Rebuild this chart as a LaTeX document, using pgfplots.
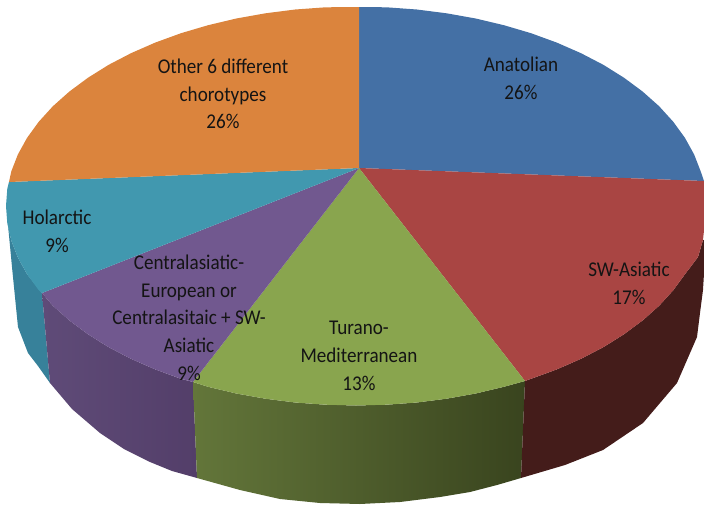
\documentclass[border=0pt]{standalone}
\usepackage{fontspec}
\setmainfont[FakeStretch=0.91]{Carlito}
\usepackage{pgfplots}
\pgfplotsset{compat=1.18}
\definecolor{cBlue}{HTML}{4470A5}
\definecolor{cRed}{HTML}{A94543}
\definecolor{cGreen}{HTML}{89A54E}
\definecolor{cPurple}{HTML}{71588F}
\definecolor{cTeal}{HTML}{4198AF}
\definecolor{cOrange}{HTML}{DB843D}
\definecolor{sRed}{HTML}{441C1A}
\definecolor{sGreenL}{HTML}{63763A}
\definecolor{sGreenR}{HTML}{39441E}
\definecolor{sPurpleL}{HTML}{5F4B78}
\definecolor{sPurpleR}{HTML}{533E69}
\definecolor{sTeal}{HTML}{37819A}
\begin{document}
\begin{tikzpicture}
\path[use as bounding box] (0,0) rectangle (704pt,504pt);
\begin{axis}[
  at={(0,0)}, anchor=south west,
  width=704pt, height=504pt, scale only axis,
  xmin=0, xmax=704, ymin=0, ymax=504, y dir=reverse,
  hide axis, clip=true,
]
% side walls
\addplot[draw=none, fill=sTeal] coordinates {(8,225)(11.3,240.6)(17.9,257.6)(27.1,274.2)(42,293)(50,383)(38,366)(28,353)(18,327)(12,267)} --cycle;
\addplot[draw=none, left color=sPurpleL, right color=sPurpleR] coordinates {(42,293)(52.9,305.8)(69.3,320.4)(87.9,334.2)(108.5,347.1)(131,358.8)(155.2,369.4)(181,378.8)(193,382)(197,478)(172,471)(150,462)(124,449)(100,433)(72,409)(50,383)} --cycle;
\addplot[draw=none, left color=sGreenL, right color=sGreenR] coordinates {(193,382)(208.1,386.8)(236.3,393.5)(265.4,398.7)(295.2,402.5)(325.5,404.7)(356,405.5)(386.5,404.7)(416.8,402.5)(446.6,398.7)(475.7,393.5)(503.9,386.8)(525,381)(521,478)(497,485)(470,492)(440,497)(400,502)(360,504)(320,503)(280,499)(240,490)(197,478)} --cycle;
\addplot[draw=none, fill=sRed] coordinates {(525,381)(531,378.8)(556.8,369.4)(581,358.8)(603.5,347.1)(624.1,334.2)(642.7,320.4)(659.1,305.8)(673.2,290.3)(685,274.2)(698,257)(703,240)(706,240)(703,290)(700,313)(697,337)(677,383)(643,423)(603,450)(565,465)(521,478)} --cycle;
% top face
\addplot[draw=none, fill=cBlue] coordinates {(359,168)(359,7)(386.5,7.3)(416.8,9.5)(446.6,13.3)(475.7,18.5)(503.9,25.2)(531,33.2)(556.8,42.6)(581,53.2)(603.5,64.9)(624.1,77.8)(642.7,91.6)(659.1,106.2)(673.2,121.7)(684.9,137.8)(694.1,154.4)(700.7,171.4)(704,181)} --cycle;
\addplot[draw=none, fill=cRed] coordinates {(359,168)(704,181)(704.7,188.6)(706,206)(704.7,223.4)(703,240)(698,257)(685,274.2)(673.2,290.3)(659.1,305.8)(642.7,320.4)(624.1,334.2)(603.5,347.1)(581,358.8)(556.8,369.4)(531,378.8)(525,381)} --cycle;
\addplot[draw=none, fill=cGreen] coordinates {(359,168)(525,381)(503.9,386.8)(475.7,393.5)(446.6,398.7)(416.8,402.5)(386.5,404.7)(356,405.5)(325.5,404.7)(295.2,402.5)(265.4,398.7)(236.3,393.5)(208.1,386.8)(193,382)} --cycle;
\addplot[draw=none, fill=cPurple] coordinates {(359,168)(193,382)(181,378.8)(155.2,369.4)(131,358.8)(108.5,347.1)(87.9,334.2)(69.3,320.4)(52.9,305.8)(42,293)} --cycle;
\addplot[draw=none, fill=cTeal] coordinates {(359,168)(42,293)(38.8,290.3)(27.1,274.2)(17.9,257.6)(11.3,240.6)(7.3,223.4)(6,206)(7.3,188.6)(9,182)} --cycle;
\addplot[draw=none, fill=cOrange] coordinates {(359,168)(9,182)(11.3,171.4)(17.9,154.4)(27.1,137.8)(38.8,121.7)(52.9,106.2)(69.3,91.6)(87.9,77.8)(108.5,64.9)(131,53.2)(155.2,42.6)(181,33.2)(208.1,25.2)(236.3,18.5)(265.4,13.3)(295.2,9.5)(325.5,7.3)(359,7)} --cycle;
% labels
\tikzset{lb/.style={align=center, text=black!92, inner sep=0pt, font=\fontsize{21}{27.7}\selectfont}}
\node[lb] at (axis cs:521,78) {Anatolian\\26\%};
\node[lb] at (axis cs:223,94) {Other 6 different\\chorotypes\\26\%};
\node[lb] at (axis cs:57,231) {Holarctic\\9\%};
\node[lb] at (axis cs:189,317.5) {Centralasiatic-\\European or\\Centralasitaic + SW-\\Asiatic\\9\%};
\node[lb] at (axis cs:359,356) {Turano-\\Mediterranean\\13\%};
\node[lb] at (axis cs:629,283) {SW-Asiatic\\17\%};
\end{axis}
\end{tikzpicture}
\end{document}
